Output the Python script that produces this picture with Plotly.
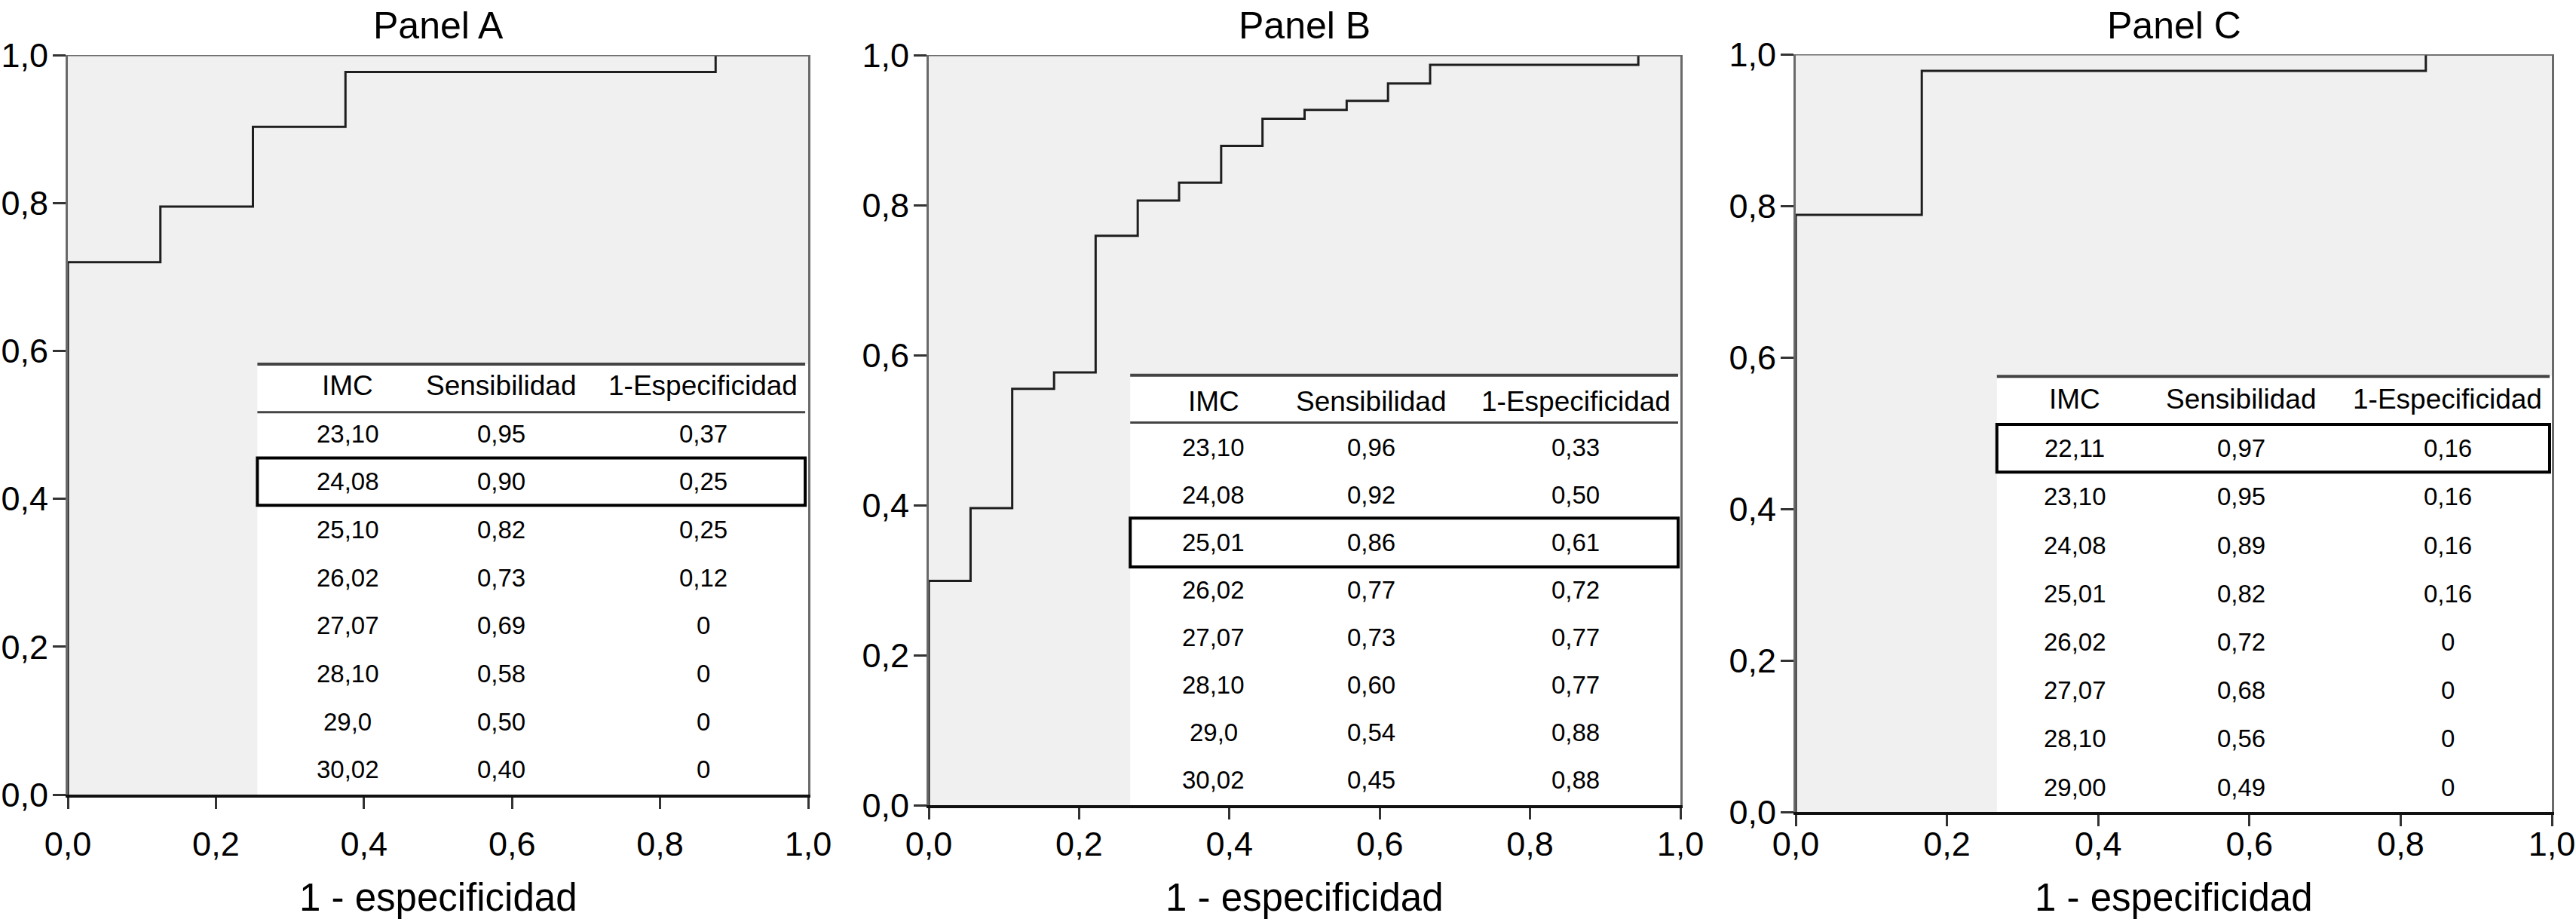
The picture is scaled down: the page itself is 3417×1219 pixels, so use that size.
import plotly.graph_objects as go

# ---------------- data ----------------
panel_titles = ["Panel A", "Panel B", "Panel C"]
axis_title = "1 - especificidad"
table_header = ["IMC", "Sensibilidad", "1-Especificidad"]

# ROC curves (1 - specificity, sensitivity), step points
A_fpr = [0, 0, 0.125, 0.25, 0.375, 0.875, 1.0]
A_tpr = [0, 0.72, 0.795, 0.903, 0.977, 1.0, 1.0]

B_fpr = [0, 0, 0.0556, 0.111, 0.1667, 0.222, 0.278, 0.333, 0.389, 0.444,
         0.5, 0.556, 0.611, 0.667, 0.944, 1.0]
B_tpr = [0, 0.299, 0.396, 0.555, 0.577, 0.759, 0.806, 0.830, 0.879, 0.915,
         0.927, 0.939, 0.962, 0.987, 1.0, 1.0]

C_fpr = [0, 0, 0.1667, 0.8333, 1.0]
C_tpr = [0, 0.788, 0.978, 1.0, 1.0]

# tables
A_imc = ["23,10", "24,08", "25,10", "26,02", "27,07", "28,10", "29,0", "30,02"]
A_sens = ["0,95", "0,90", "0,82", "0,73", "0,69", "0,58", "0,50", "0,40"]
A_esp = ["0,37", "0,25", "0,25", "0,12", "0", "0", "0", "0"]
A_best = 1

B_imc = ["23,10", "24,08", "25,01", "26,02", "27,07", "28,10", "29,0", "30,02"]
B_sens = ["0,96", "0,92", "0,86", "0,77", "0,73", "0,60", "0,54", "0,45"]
B_esp = ["0,33", "0,50", "0,61", "0,72", "0,77", "0,77", "0,88", "0,88"]
B_best = 2

C_imc = ["22,11", "23,10", "24,08", "25,01", "26,02", "27,07", "28,10", "29,00"]
C_sens = ["0,97", "0,95", "0,89", "0,82", "0,72", "0,68", "0,56", "0,49"]
C_esp = ["0,16", "0,16", "0,16", "0,16", "0", "0", "0", "0"]
C_best = 0

tick_vals = [0, 0.2, 0.4, 0.6, 0.8, 1.0]

# ---------------- layout constants ----------------
W, H = 3417, 1219
FONT = "Liberation Sans, Arial, Helvetica, sans-serif"

# plot boxes in pixels (left, right, top, bottom)
boxes = [(90, 1072, 73, 1054), (1232, 2229, 73, 1068), (2382, 3385, 72, 1077)]
# x tick label standoff per panel (labels sit at the same height in all panels)
x_standoff = [8, -6, -15]

# table geometry in axis fractions
tables = [
    dict(left=0.256, right=0.996, top=0.582, hline=0.517, hcenter=0.553,
         row0=0.488, step=0.0649, half=0.032, cols=[0.378, 0.586, 0.858]),
    dict(left=0.268, right=0.997, top=0.573, hline=0.510, hcenter=0.538,
         row0=0.477, step=0.0634, half=0.0325, cols=[0.379, 0.589, 0.861]),
    dict(left=0.266, right=0.997, top=0.575, hline=0.511, hcenter=0.545,
         row0=0.480, step=0.0639, half=0.0315, cols=[0.369, 0.589, 0.862]),
]

curves = [(A_fpr, A_tpr), (B_fpr, B_tpr), (C_fpr, C_tpr)]
table_data = [(A_imc, A_sens, A_esp, A_best),
              (B_imc, B_sens, B_esp, B_best),
              (C_imc, C_sens, C_esp, C_best)]

fig = go.Figure()
shapes = []
annotations = []
layout = {}

for i in range(3):
    n = "" if i == 0 else str(i + 1)
    xr, yr = "x" + n, "y" + n
    l, r, t, b = boxes[i]
    fx, fy = curves[i]
    fig.add_trace(go.Scatter(
        x=fx, y=fy, mode="lines", line=dict(color="#1e1e1e", width=3, shape="hv"),
        xaxis=xr, yaxis=yr, showlegend=False, hoverinfo="skip"))

    layout["xaxis" + n] = dict(
        domain=[l / W, r / W], range=[0, 1], anchor=yr, automargin=False,
        tickvals=tick_vals, tickformat=".1f", ticks="outside", ticklen=15,
        tickwidth=3, tickcolor="#333", showgrid=False, zeroline=False,
        showline=True, linecolor="#111", linewidth=4,
        tickfont=dict(size=45, color="#000", family=FONT),
        ticklabelstandoff=x_standoff[i], fixedrange=True)
    layout["yaxis" + n] = dict(
        domain=[1 - b / H, 1 - t / H], range=[0, 1], anchor=xr, automargin=False,
        tickvals=tick_vals, tickformat=".1f", ticks="outside", ticklen=17,
        tickwidth=3, tickcolor="#333", showgrid=False, zeroline=False,
        showline=True, linecolor="#6a6a6a", linewidth=3, mirror=True,
        tickfont=dict(size=45, color="#000", family=FONT),
        ticklabelstandoff=-3, fixedrange=True)

    # top border
    shapes.append(dict(type="line", xref=xr, yref=yr, x0=0, x1=1, y0=1, y1=1,
                       line=dict(color="#6a6a6a", width=3)))

    tb = tables[i]
    # white table background
    shapes.append(dict(type="rect", xref=xr, yref=yr, x0=tb["left"], x1=1,
                       y0=0, y1=tb["top"], fillcolor="white",
                       line=dict(width=0), layer="below"))
    # top and header lines
    shapes.append(dict(type="line", xref=xr, yref=yr, x0=tb["left"], x1=tb["right"],
                       y0=tb["top"], y1=tb["top"], line=dict(color="#444", width=4)))
    shapes.append(dict(type="line", xref=xr, yref=yr, x0=tb["left"], x1=tb["right"],
                       y0=tb["hline"], y1=tb["hline"], line=dict(color="#444", width=3)))

    imc, sens, esp, best = table_data[i]
    # highlight box
    yc = tb["row0"] - best * tb["step"]
    shapes.append(dict(type="rect", xref=xr, yref=yr, x0=tb["left"], x1=tb["right"],
                       y0=yc - tb["half"], y1=yc + tb["half"],
                       line=dict(color="#000", width=4), fillcolor="rgba(0,0,0,0)"))

    for j, h in enumerate(table_header):
        annotations.append(dict(x=tb["cols"][j], y=tb["hcenter"], xref=xr, yref=yr,
                                text=h, showarrow=False, xanchor="center", yanchor="middle",
                                font=dict(size=37, color="#000", family=FONT)))
    for k in range(len(imc)):
        yk = tb["row0"] - k * tb["step"]
        for j, val in enumerate((imc[k], sens[k], esp[k])):
            annotations.append(dict(x=tb["cols"][j], y=yk, xref=xr, yref=yr,
                                    text=val, showarrow=False, xanchor="center",
                                    yanchor="middle",
                                    font=dict(size=33, color="#000", family=FONT)))

    # panel title and axis title
    cx = (l + r) / 2 / W
    annotations.append(dict(x=cx, y=1 - 34 / H, xref="paper", yref="paper",
                            text=panel_titles[i], showarrow=False, xanchor="center",
                            yanchor="middle", font=dict(size=50, color="#000", family=FONT)))
    annotations.append(dict(x=cx, y=1 - 1190 / H, xref="paper", yref="paper",
                            text=axis_title, showarrow=False, xanchor="center",
                            yanchor="middle", font=dict(size=51, color="#000", family=FONT)))

fig.update_layout(
    width=W, height=H, autosize=False,
    margin=dict(l=0, r=0, t=0, b=0, autoexpand=False),
    paper_bgcolor="white", plot_bgcolor="#f0f0f0",
    separators=",.", font=dict(family=FONT, color="#000"),
    shapes=shapes, annotations=annotations, showlegend=False,
    **layout)

fig.write_html(
    "out.html",
    config={"displayModeBar": False},
    post_script="document.body.style.margin='0px';document.body.style.overflow='hidden';")
